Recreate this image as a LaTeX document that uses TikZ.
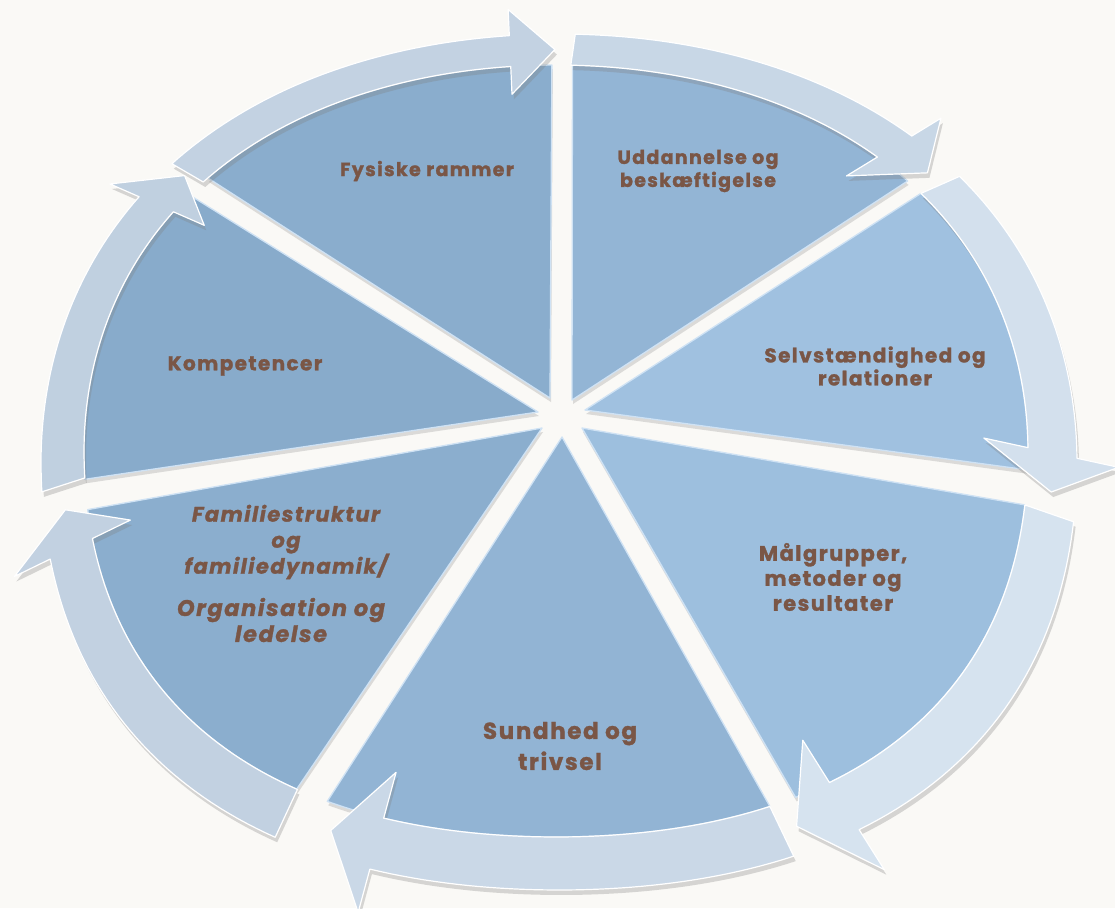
\documentclass[tikz,border=0pt]{standalone}
\usepackage{fontspec}
\newfontfamily\lblfont{Poppins}[LetterSpace=7.0, BoldFeatures={FakeBold=1.3}, BoldItalicFeatures={FakeBold=1.3}]
\usetikzlibrary{shadows}
\definecolor{bg}{HTML}{FAF9F6}
\definecolor{txt}{HTML}{7A5646}
\definecolor{edgehi}{HTML}{CFE2F4}
\definecolor{sU}{HTML}{93B5D5}
\definecolor{sF}{HTML}{8AADCD}
\definecolor{sK}{HTML}{88ABCB}
\definecolor{sFa}{HTML}{8BAECE}
\definecolor{sS}{HTML}{92B4D4}
\definecolor{sM}{HTML}{9DBFDE}
\definecolor{sSe}{HTML}{A0C1E0}
\definecolor{a1}{HTML}{C3D2E2}
\definecolor{a2}{HTML}{C8D7E6}
\definecolor{a3}{HTML}{D3E0ED}
\definecolor{a4}{HTML}{D6E3EF}
\definecolor{a5}{HTML}{CAD8E7}
\definecolor{a6}{HTML}{C2D1E1}
\definecolor{a7}{HTML}{C0D0E0}
\pgfmathdeclarefunction{bm}{1}{\pgfmathparse{1+(0.022+0.02*(sin(#1)<0))*(sin(2*#1))^2}}
\tikzset{
  sectorst/.style={draw=edgehi, line width=1.3pt, line join=round,
    drop shadow={shadow xshift=1pt, shadow yshift=-4pt, opacity=0.25}},
  arrowst/.style={draw=white, line width=1.2pt, line join=round,
    drop shadow={shadow xshift=2pt, shadow yshift=-5pt, opacity=0.3}},
  lbl/.style 2 args={text=txt, align=center, font=\lblfont\bfseries\fontsize{#1}{#2}\selectfont},
  ilbl/.style 2 args={text=txt, align=center, font=\lblfont\bfseries\itshape\fontsize{#1}{#2}\selectfont}
}
\begin{document}
\begin{tikzpicture}[x=1pt,y=-1pt]
\fill[bg] (0,0) rectangle (1115,908);
\useasboundingbox (0,0) rectangle (1115,908);
% sector tips
\coordinate (tU) at (572,400);
\coordinate (tF) at (550,398);
\coordinate (tK) at (538,412);
\coordinate (tFa) at (542,428);
\coordinate (tS) at (562,437);
\coordinate (tM) at (582,428);
\coordinate (tSe) at (585,410);
% sectors
\foreach \n/\a/\b/\c in {tU/43.2/88.0/sU, tF/90.5/136.2/sF, tK/139.5/184.2/sK,
  tFa/188.7/237.9/sFa, tS/241.9/296.2/sS, tM/299.5/352.0/sM, tSe/357.2/400.8/sSe}{
  \path[sectorst, fill=\c] (\n) -- plot[domain=\a:\b, samples=40, variable=\t]
    ({556+472*bm(\t)*cos(\t)},{451-386*bm(\t)*sin(\t)}) -- cycle;
}
% arrows
\foreach \ts/\tb/\tp/\c in {137.0/95.5/90.3/a1, 88.2/48.2/43.0/a2, 40.8/0.5/-5.0/a3,
  -8.0/-56.0/-62.0/a4, -63.8/-111.0/-116.5/a5, -122.0/-167.0/-172.5/a6,
  -176.0/-217.4/-222.5/a7}{
  \path[arrowst, fill=\c]
    plot[domain=\ts:\tb, samples=40, variable=\t] ({556+472*bm(\t)*cos(\t)},{451-386*bm(\t)*sin(\t)})
    -- ({553.3+430.6*bm(\tb)*cos(\tb)},{441.1-348.2*bm(\tb)*sin(\tb)})
    -- ({557.5+495*bm(\tp)*cos(\tp)},{456.5-407*bm(\tp)*sin(\tp)})
    -- ({561.55+557.1*bm(\tb)*cos(\tb)},{471.35-463.7*bm(\tb)*sin(\tb)})
    -- plot[domain=\tb:\ts, samples=40, variable=\t] ({559+518*bm(\t)*cos(\t)},{462-428*bm(\t)*sin(\t)})
    -- cycle;
}
% labels
\node[lbl={19}{23}] (lF) at (427,171) {Fysiske rammer};
\node[lbl={19}{23}] (lU) at (698,171) {Uddannelse og\\beskæftigelse};
\node[lbl={20}{23}] (lSe) at (875,366) {Selvstændighed og\\relationer};
\node[lbl={21}{25}] (lM) at (833,577) {Målgrupper,\\metoder og\\resultater};
\node[lbl={23}{31}] (lS) at (560,746) {Sundhed og\\trivsel};
\node[ilbl={21}{26}] (lFa1) at (286,542) {Familiestruktur\\og\\familiedynamik/};
\node[ilbl={22.5}{26}] (lFa2) at (281,620) {Organisation og\\ledelse};
\node[lbl={20}{23}] (lK) at (245,366) {Kompetencer};
\end{tikzpicture}
\end{document}
